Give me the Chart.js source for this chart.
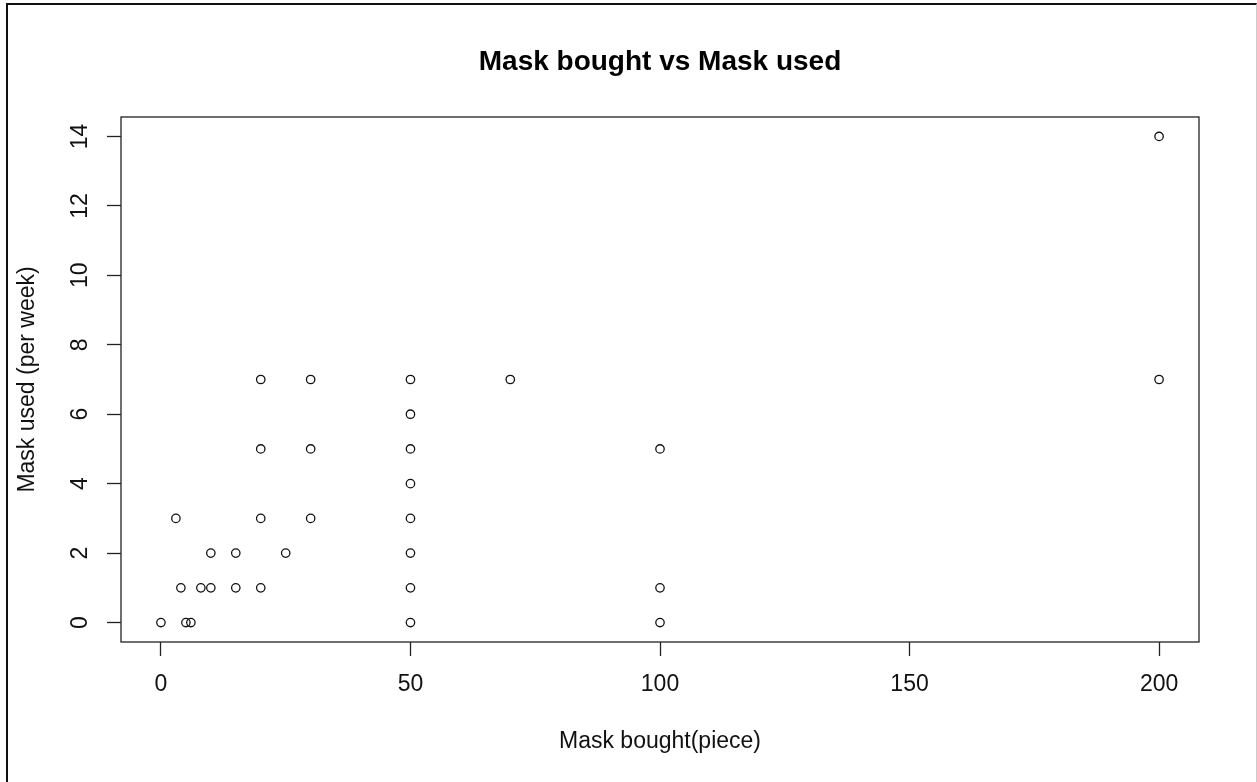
<!DOCTYPE html>
<html>
<head>
<meta charset="utf-8">
<script src="https://cdn.jsdelivr.net/npm/chart.js@4.4.1/dist/chart.umd.min.js"></script>
<style>
  html, body { margin: 0; padding: 0; background: #fff; }
  #wrap { position: relative; width: 1257px; height: 782px; overflow: hidden; }
  #frame {
    position: absolute; left: 6px; top: 3px; right: 0; bottom: -10px;
    border-left: 2px solid #111; border-top: 2px solid #111; border-right: 1px solid #ccc;
    pointer-events: none;
  }
</style>
</head>
<body>
<div id="wrap">
  <canvas id="scatterChart" width="1257" height="782"></canvas>
  <div id="frame"></div>
</div>
<script>
// Data
const maskBought = [0, 3, 4, 5, 6, 8, 10, 10, 15, 15, 20, 20, 20, 20, 25, 30, 30, 30,
  50, 50, 50, 50, 50, 50, 50, 50, 70, 100, 100, 100, 200, 200];
const maskUsed = [0, 3, 1, 0, 0, 1, 2, 1, 2, 1, 7, 5, 3, 1, 2, 7, 5, 3,
  7, 6, 5, 4, 3, 2, 1, 0, 7, 5, 1, 0, 14, 7];
const xTicks = [0, 50, 100, 150, 200];
const yTicks = [0, 2, 4, 6, 8, 10, 12, 14];

Chart.defaults.font.family = '"Liberation Sans", Arial, sans-serif';
Chart.defaults.color = '#111';

// box around the plot region, like R's box()
const plotBox = {
  id: 'plotBox',
  afterDatasetsDraw(chart) {
    const a = chart.chartArea;
    const ctx = chart.ctx;
    ctx.save();
    ctx.strokeStyle = '#222';
    ctx.lineWidth = 1.3;
    ctx.strokeRect(a.left, a.top, a.right - a.left, a.bottom - a.top);
    ctx.restore();
  }
};

const ctx = document.getElementById('scatterChart');
new Chart(ctx, {
  type: 'scatter',
  data: {
    datasets: [{
      label: 'Mask',
      data: maskBought.map((x, i) => ({ x: x, y: maskUsed[i] })),
      pointStyle: 'circle',
      pointRadius: 4.2,
      pointHoverRadius: 4.2,
      borderColor: '#111',
      borderWidth: 1.3,
      backgroundColor: 'rgba(0,0,0,0)'
    }]
  },
  options: {
    responsive: false,
    animation: false,
    layout: {
      padding: { left: 0, right: 58, top: 0, bottom: 0 }
    },
    plugins: {
      legend: { display: false },
      tooltip: { enabled: false },
      title: {
        display: true,
        text: 'Mask bought vs Mask used',
        fullSize: false,
        color: '#000',
        font: { size: 28, weight: 'bold', lineHeight: 1.2 },
        padding: { top: 45, bottom: 38.4 }
      }
    },
    scales: {
      x: {
        type: 'linear',
        min: -8,
        max: 208,
        afterBuildTicks: function(scale) {
          scale.ticks = xTicks.map(v => ({ value: v }));
        },
        afterFit: function(scale) {
          scale.height = 140;
        },
        border: { display: false },
        grid: {
          drawOnChartArea: false,
          drawTicks: true,
          tickLength: 14,
          tickWidth: 1.3,
          tickColor: '#222'
        },
        ticks: {
          autoSkip: false,
          maxRotation: 0,
          padding: 15,
          font: { size: 23, lineHeight: 1.2 }
        },
        title: {
          display: true,
          text: 'Mask bought(piece)',
          font: { size: 23, lineHeight: 1.2 },
          padding: { top: 0, bottom: 27 }
        }
      },
      y: {
        type: 'linear',
        min: -0.56,
        max: 14.56,
        afterBuildTicks: function(scale) {
          scale.ticks = yTicks.map(v => ({ value: v }));
        },
        afterFit: function(scale) {
          scale.width = 121;
        },
        border: { display: false },
        grid: {
          drawOnChartArea: false,
          drawTicks: true,
          tickLength: 14,
          tickWidth: 1.3,
          tickColor: '#222'
        },
        ticks: {
          autoSkip: false,
          minRotation: 90,
          maxRotation: 90,
          crossAlign: 'center',
          padding: 14,
          font: { size: 23, lineHeight: 1.2 }
        },
        title: {
          display: true,
          text: 'Mask used (per week)',
          font: { size: 23, lineHeight: 1.2 },
          padding: { top: 13.5, bottom: 0 }
        }
      }
    }
  },
  plugins: [plotBox]
});
</script>
</body>
</html>
